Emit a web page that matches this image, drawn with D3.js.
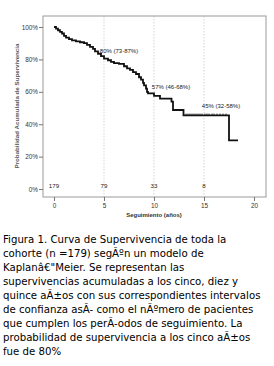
<!DOCTYPE html>
<html><head><meta charset="utf-8">
<script src="https://cdn.jsdelivr.net/npm/d3@7"></script>
<style>body{margin:0;background:#fff}svg{display:block}</style>
</head><body>
<svg id="c" width="274" height="366"></svg>
<script>
// Kaplan-Meier step data (years, survival proportion)
const stepTimes    = [0, 0.2, 0.4, 0.6, 0.8, 1.0, 1.2, 1.5, 1.8, 2.2, 2.6, 3.0, 3.3, 3.6, 3.9, 4.1, 4.4, 4.7, 5.0, 5.4, 5.7, 6.0, 6.5, 7.0, 7.3, 7.6, 7.9, 8.2, 8.5, 8.7, 8.9, 9.0, 9.2, 9.3, 9.4, 10.0, 10.6, 11.75, 11.9, 12.95, 17.5];
const stepSurvival = [1.00, 0.99, 0.98, 0.97, 0.96, 0.945, 0.935, 0.925, 0.918, 0.912, 0.906, 0.90, 0.89, 0.878, 0.865, 0.85, 0.835, 0.82, 0.805, 0.795, 0.785, 0.777, 0.772, 0.758, 0.745, 0.735, 0.722, 0.71, 0.69, 0.675, 0.655, 0.64, 0.62, 0.60, 0.59, 0.575, 0.558, 0.54, 0.488, 0.455, 0.30];
const endTime = 18.4;
const censorTimes = [13.2, 13.4, 13.6, 13.8, 14.0, 14.2, 14.4, 14.6, 14.8, 15.1, 15.3, 15.5, 15.8, 16.0, 16.3, 16.6, 16.9, 17.2];
// annotations
const annotTimes  = [6.5, 11.7, 16.7];
const annotSurv   = [0.84, 0.62, 0.50];
const annotLabels = ["80% (73-87%)", "57% (46-68%)", "45% (32-58%)"];
// number at risk
const riskTimes  = [0, 5, 10, 15];
const riskLabels = ["179", "79", "33", "8"];
// axes
const xTicks = [0, 5, 10, 15, 20];
const yTicks = [0, 0.2, 0.4, 0.6, 0.8, 1.0];
const gridTimes = [5, 10, 15];
const xTitle = "Seguimiento (años)";
const yTitle = "Probabilidad Acumulada de Supervivencia";
const captionLines = [
 "Figura 1. Curva de Supervivencia de toda la",
 "cohorte (n =179) segÃºn un modelo de",
 "Kaplanâ€\"Meier. Se representan las",
 "supervivencias acumuladas a los cinco, diez y",
 "quince aÃ±os con sus correspondientes intervalos",
 "de confianza asÃ- como el nÃºmero de pacientes",
 "que cumplen los perÃ-odos de seguimiento. La",
 "probabilidad de supervivencia a los cinco aÃ±os",
 "fue de 80%"
];

const svg = d3.select("#c");
const L = 43, R = 266, T = 16, B = 197;
const x = d3.scaleLinear().domain([-1.1, 21.2]).range([L, R]);
const y = d3.scaleLinear().domain([-0.049, 1.068]).range([B, T]);
const font = "Liberation Sans, Arial, sans-serif";

// gridlines
svg.append("g").selectAll("line").data(gridTimes).join("line")
  .attr("x1", d => x(d)).attr("x2", d => x(d)).attr("y1", T).attr("y2", B)
  .attr("stroke", "#c8c8c8").attr("stroke-width", 0.8).attr("stroke-dasharray", "1.5,1.5");

// frame
svg.append("rect").attr("x", L).attr("y", T).attr("width", R - L).attr("height", B - T)
  .attr("fill", "none").attr("stroke", "#9a9a9a").attr("stroke-width", 1);

// axes
const ya = svg.append("g").attr("transform", `translate(${L},0)`)
  .call(d3.axisLeft(y).tickValues(yTicks).tickSize(4).tickPadding(1).tickFormat(d3.format(".0%")));
const xa = svg.append("g").attr("transform", `translate(0,${B})`)
  .call(d3.axisBottom(x).tickValues(xTicks).tickSize(4).tickPadding(2).tickFormat(d3.format("d")));
[ya, xa].forEach(a => {
  a.select(".domain").remove();
  a.selectAll("line").attr("stroke", "#777");
  a.selectAll("text").attr("font-family", font).attr("font-size", 6.4).attr("fill", "#333");
});

// curve
const pts = [];
stepTimes.forEach((t, i) => pts.push([t, stepSurvival[i]]));
pts.push([endTime, stepSurvival[stepSurvival.length - 1]]);
const line = d3.line().x(d => x(d[0])).y(d => y(d[1])).curve(d3.curveStepAfter);
svg.append("path").datum(pts).attr("d", line).attr("fill", "none")
  .attr("stroke", "#111").attr("stroke-width", 1.8);

// censor marks
const survAt = t => { let s = 1; stepTimes.forEach((st, i) => { if (st <= t) s = stepSurvival[i]; }); return s; };
svg.append("g").selectAll("line").data(censorTimes).join("line")
  .attr("x1", d => x(d)).attr("x2", d => x(d))
  .attr("y1", d => y(survAt(d)) - 1.8).attr("y2", d => y(survAt(d)) + 0.5)
  .attr("stroke", "#111").attr("stroke-width", 0.8);

// annotations
svg.append("g").selectAll("text").data(annotLabels).join("text")
  .attr("x", (d, i) => x(annotTimes[i])).attr("y", (d, i) => y(annotSurv[i]))
  .attr("text-anchor", "middle").attr("font-family", font).attr("font-size", 6)
  .attr("fill", "#222").text(d => d);

// number at risk
svg.append("g").selectAll("text").data(riskLabels).join("text")
  .attr("x", (d, i) => x(riskTimes[i])).attr("y", y(0) - 1)
  .attr("text-anchor", "middle").attr("font-family", font).attr("font-size", 6.2)
  .attr("fill", "#222").text(d => d);

// axis titles
svg.append("text").attr("x", 154).attr("y", 217).attr("text-anchor", "middle")
  .attr("font-family", font).attr("font-size", 6).attr("font-weight", "bold")
  .attr("fill", "#333").text(xTitle);
svg.append("text").attr("transform", "translate(19,106) rotate(-90)").attr("text-anchor", "middle")
  .attr("font-family", font).attr("font-size", 6.2).attr("font-weight", "bold")
  .attr("fill", "#555").text(yTitle);

// caption
svg.append("g").selectAll("text").data(captionLines).join("text")
  .attr("x", 3).attr("y", (d, i) => 243 + i * 14)
  .attr("font-family", "DejaVu Sans, sans-serif").attr("font-size", 10.2).attr("fill", "#000")
  .text(d => d);
</script>
</body></html>
